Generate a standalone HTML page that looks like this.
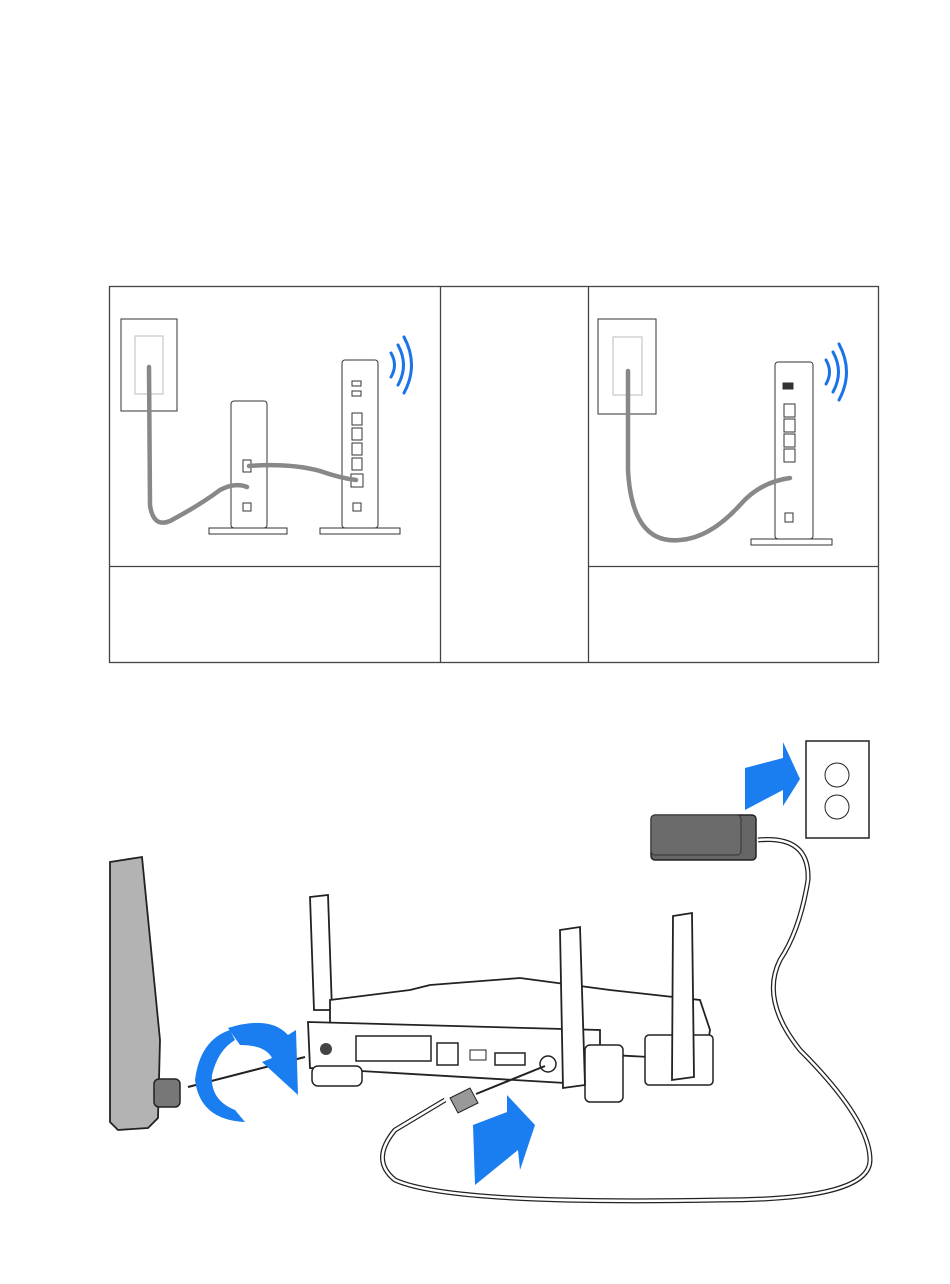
<!DOCTYPE html>
<html><head><meta charset="utf-8"><style>html,body{margin:0;padding:0;background:#fff}svg{display:block}</style></head>
<body>
<svg width="950" height="1284" viewBox="0 0 950 1284" xmlns="http://www.w3.org/2000/svg">
<!-- table -->
<g fill="none" stroke="#444" stroke-width="1.3">
<rect x="109.5" y="286.5" width="769" height="376"/>
<line x1="440.5" y1="286" x2="440.5" y2="662"/>
<line x1="588.5" y1="286" x2="588.5" y2="662"/>
<line x1="109" y1="566.5" x2="440" y2="566.5"/>
<line x1="588" y1="566.5" x2="878" y2="566.5"/>
</g>
<!-- left panel -->
<g stroke="#333" stroke-width="1" fill="#fff">
<rect x="121" y="319" width="56" height="92"/>
<rect x="135" y="336" width="28" height="58" stroke="#bbb"/>
<rect x="231" y="401" width="36" height="127" rx="3"/>
<rect x="209" y="528" width="78" height="6"/>
<rect x="342" y="360" width="36" height="168" rx="3"/>
<rect x="320" y="528" width="80" height="6"/>
<rect x="598" y="319" width="58" height="95"/>
<rect x="613" y="337" width="29" height="58" stroke="#bbb"/>
<rect x="775" y="362" width="38" height="177" rx="3"/>
<rect x="751" y="539" width="81" height="6"/>
</g>
<g stroke="#333" stroke-width="1" fill="#fff">
<rect x="352" y="413" width="10" height="12"/><rect x="352" y="428" width="10" height="12"/><rect x="352" y="443" width="10" height="12"/><rect x="352" y="458" width="10" height="12"/><rect x="351" y="474" width="12" height="13"/>
<rect x="352" y="381" width="9" height="5"/><rect x="352" y="391" width="9" height="5"/>
<rect x="243" y="460" width="8" height="12"/>
<rect x="243" y="503" width="8" height="8"/><rect x="353" y="503" width="8" height="8"/>
<rect x="784" y="404" width="11" height="13"/><rect x="784" y="419" width="11" height="13"/><rect x="784" y="434" width="11" height="13"/><rect x="784" y="449" width="11" height="13"/>
<rect x="783" y="383" width="10" height="6" fill="#333"/>
<rect x="785" y="513" width="8" height="9"/>
</g>
<g fill="none" stroke="#888" stroke-width="4.5" stroke-linecap="round">
<path d="M149 367 L150 505 Q153 528 170 521 Q200 505 220 490 Q235 482 247 487"/>
<path d="M249 466 Q290 463 320 471 Q340 478 356 480"/>
<path d="M628 371 L628 470 Q632 545 680 540 Q710 538 740 505 Q760 482 790 478"/>
</g>
<g fill="none" stroke="#1a73e8" stroke-width="3" stroke-linecap="round">
<path d="M391 353 Q398 365 391 377"/><path d="M398 345 Q409 365 398 385"/><path d="M404 337 Q419 365 404 393"/>
<path d="M826 360 Q833 372 826 384"/><path d="M833 352 Q844 372 833 392"/><path d="M839 344 Q854 372 839 400"/>
</g>
<!-- bottom illustration -->
<rect x="806" y="741" width="63" height="97" fill="#fff" stroke="#222" stroke-width="1.5"/>
<circle cx="837" cy="775" r="12" fill="#fff" stroke="#222"/><circle cx="837" cy="807" r="12" fill="#fff" stroke="#222"/>
<polygon points="745,768 783,758 783,742 800,779 783,806 783,790 745,810" fill="#1a7ef0"/>
<rect x="651" y="815" width="105" height="45" rx="4" fill="#666" stroke="#222" stroke-width="1.5"/>
<rect x="651" y="815" width="90" height="40" rx="4" fill="#6b6b6b" stroke="#333"/>
<g fill="none" stroke="#222" stroke-width="5"><path d="M758 840 Q810 835 808 880 Q800 930 780 960 Q760 1000 800 1050 Q870 1120 870 1160 Q870 1200 720 1200 Q450 1205 395 1180 Q370 1160 395 1130 Q420 1115 445 1100"/></g>
<g fill="none" stroke="#fff" stroke-width="2.5"><path d="M758 840 Q810 835 808 880 Q800 930 780 960 Q760 1000 800 1050 Q870 1120 870 1160 Q870 1200 720 1200 Q450 1205 395 1180 Q370 1160 395 1130 Q420 1115 445 1100"/></g>
<path d="M310 897 L328 895 L332 1010 L314 1010 Z" fill="#fff" stroke="#222" stroke-width="1.8"/>
<path d="M330 1000 L410 990 L430 985 L520 978 L610 990 L700 1000 L710 1030 L705 1060 L330 1040 Z" fill="#fff" stroke="#222" stroke-width="1.8"/>
<path d="M308 1022 L600 1030 L600 1085 L310 1068 Z" fill="#fff" stroke="#222" stroke-width="1.8"/>
<rect x="312" y="1066" width="50" height="20" rx="6" fill="#fff" stroke="#222" stroke-width="1.5"/>
<rect x="585" y="1045" width="38" height="57" rx="5" fill="#fff" stroke="#222" stroke-width="1.5"/>
<rect x="645" y="1035" width="68" height="50" rx="4" fill="#fff" stroke="#222" stroke-width="1.5"/>
<circle cx="326" cy="1049" r="6" fill="#444"/>
<rect x="356" y="1036" width="75" height="25" fill="#fff" stroke="#222" stroke-width="1.5"/>
<rect x="437" y="1043" width="21" height="22" fill="#fff" stroke="#222" stroke-width="1.5"/>
<rect x="470" y="1050" width="16" height="10" fill="#fff" stroke="#222"/>
<rect x="495" y="1053" width="30" height="12" fill="#fff" stroke="#222" stroke-width="1.5"/>
<circle cx="548" cy="1064" r="8" fill="#fff" stroke="#222" stroke-width="1.5"/>
<path d="M560 930 L580 927 L585 1085 L563 1088 Z" fill="#fff" stroke="#222" stroke-width="1.8"/>
<path d="M673 916 L692 913 L694 1077 L672 1080 Z" fill="#fff" stroke="#222" stroke-width="1.8"/>
<path d="M450 1098 L470 1088 L478 1103 L458 1113 Z" fill="#999" stroke="#222"/>
<line x1="476" y1="1094" x2="545" y2="1066" stroke="#222" stroke-width="2"/>
<polygon points="473,1125 507,1112 507,1095 535,1125 520,1170 518,1150 475,1185" fill="#1a7ef0"/>
<path d="M110 862 L142 857 L160 1040 L158 1118 L148 1128 L118 1130 L110 1122 Z" fill="#b3b3b3" stroke="#222" stroke-width="1.8"/>
<rect x="154" y="1079" width="26" height="28" rx="5" fill="#777" stroke="#222" stroke-width="1.5"/>
<line x1="188" y1="1087" x2="305" y2="1057" stroke="#222" stroke-width="2"/>
<path d="M230 1030 Q200 1040 195 1080 Q200 1120 245 1122 L235 1110 Q210 1100 212 1075 Q218 1050 235 1040 Z" fill="#1a7ef0"/>
<path d="M228 1028 Q270 1015 288 1035 L296 1030 L298 1095 L262 1062 L272 1058 Q265 1045 240 1045 Z" fill="#1a7ef0"/>
</svg>
</body></html>
